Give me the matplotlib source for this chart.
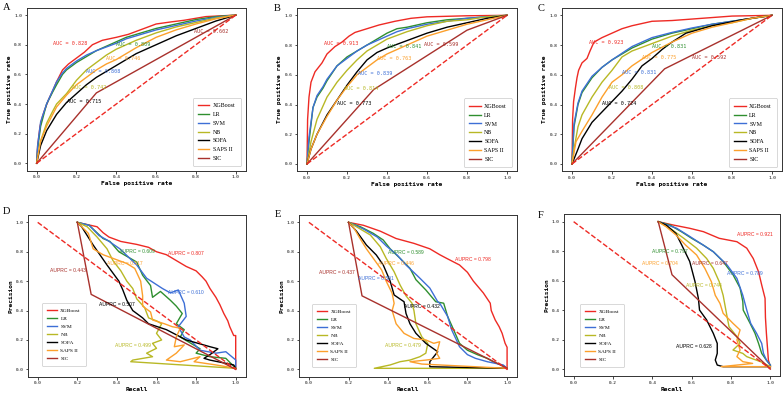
import matplotlib
matplotlib.use("Agg")
import matplotlib.pyplot as plt

models = ["XGBoost", "LR", "SVM", "NB", "SOFA", "SAPS II", "SIC"]
colors = ["#ee2a24", "#2f8f2f", "#3d6fd6", "#b8b825", "#000000", "#fca02c", "#a8312c"]

# ---- ROC curves (fpr, tpr) ----
A_xgb = [(0, 0), (0.005, 0.12), (0.017, 0.25), (0.03, 0.32), (0.04, 0.36), (0.06, 0.43), (0.084, 0.5), (0.1, 0.55),
         (0.13, 0.63), (0.16, 0.67), (0.2, 0.71), (0.24, 0.75), (0.28, 0.8), (0.33, 0.83), (0.4, 0.85), (0.46, 0.87),
         (0.52, 0.9), (0.6, 0.94), (0.68, 0.955), (0.74, 0.965), (0.85, 0.99), (1, 1)]
A_lr = [(0, 0), (0.005, 0.1), (0.02, 0.25), (0.05, 0.4), (0.08, 0.48), (0.1, 0.53), (0.13, 0.6), (0.15, 0.63), (0.2, 0.68),
        (0.25, 0.72), (0.3, 0.76), (0.35, 0.79), (0.4, 0.82), (0.45, 0.85), (0.5, 0.87), (0.6, 0.91), (0.7, 0.94),
        (0.8, 0.97), (0.9, 0.99), (1, 1)]
A_svm = [(0, 0), (0.005, 0.12), (0.02, 0.28), (0.05, 0.4), (0.08, 0.49), (0.1, 0.55), (0.13, 0.61), (0.15, 0.64),
         (0.2, 0.69), (0.25, 0.73), (0.3, 0.76), (0.35, 0.785), (0.4, 0.81), (0.45, 0.84), (0.5, 0.86), (0.6, 0.9),
         (0.7, 0.93), (0.8, 0.96), (0.9, 0.985), (1, 1)]
A_nb = [(0, 0), (0.02, 0.15), (0.05, 0.27), (0.08, 0.35), (0.1, 0.4), (0.15, 0.47), (0.2, 0.56), (0.25, 0.63), (0.3, 0.68),
        (0.35, 0.73), (0.4, 0.77), (0.5, 0.83), (0.6, 0.88), (0.7, 0.92), (0.8, 0.95), (0.9, 0.98), (1, 1)]
A_sofa = [(0, 0), (0.02, 0.12), (0.05, 0.22), (0.1, 0.33), (0.15, 0.41), (0.2, 0.47), (0.25, 0.53), (0.3, 0.58),
          (0.35, 0.62), (0.4, 0.66), (0.5, 0.74), (0.6, 0.8), (0.7, 0.86), (0.8, 0.91), (0.9, 0.96), (1, 1)]
A_saps = [(0, 0), (0.02, 0.15), (0.05, 0.25), (0.1, 0.38), (0.15, 0.46), (0.2, 0.53), (0.25, 0.58), (0.3, 0.63),
          (0.35, 0.67), (0.4, 0.7), (0.5, 0.78), (0.6, 0.85), (0.7, 0.9), (0.8, 0.94), (0.9, 0.975), (1, 1)]
A_sic = [(0, 0), (0.3, 0.475), (1, 1)]
A_auc = [0.828, 0.809, 0.808, 0.742, 0.715, 0.746, 0.602]

B_xgb = [(0, 0), (0.003, 0.3), (0.01, 0.45), (0.02, 0.55), (0.04, 0.62), (0.075, 0.68), (0.1, 0.74), (0.14, 0.79),
         (0.175, 0.82), (0.21, 0.86), (0.24, 0.885), (0.3, 0.91), (0.36, 0.935), (0.44, 0.96), (0.52, 0.98),
         (0.6, 0.99), (0.8, 0.997), (1, 1)]
B_lr = [(0, 0), (0.01, 0.15), (0.03, 0.38), (0.05, 0.45), (0.08, 0.51), (0.1, 0.56), (0.15, 0.66), (0.2, 0.72),
        (0.25, 0.76), (0.3, 0.8), (0.35, 0.84), (0.4, 0.88), (0.45, 0.91), (0.5, 0.92), (0.6, 0.95), (0.7, 0.97),
        (0.8, 0.98), (0.9, 0.99), (1, 1)]
B_svm = [(0, 0), (0.01, 0.18), (0.03, 0.38), (0.05, 0.46), (0.08, 0.52), (0.1, 0.57), (0.15, 0.66), (0.2, 0.71),
         (0.25, 0.76), (0.3, 0.8), (0.35, 0.83), (0.4, 0.86), (0.45, 0.89), (0.5, 0.91), (0.6, 0.94), (0.7, 0.96),
         (0.8, 0.98), (0.9, 0.99), (1, 1)]
B_nb = [(0, 0), (0.02, 0.15), (0.05, 0.3), (0.1, 0.45), (0.15, 0.55), (0.2, 0.63), (0.25, 0.7), (0.3, 0.76), (0.35, 0.8),
        (0.4, 0.84), (0.5, 0.89), (0.6, 0.93), (0.7, 0.96), (0.8, 0.97), (0.9, 0.99), (1, 1)]
B_sofa = [(0, 0), (0.02, 0.1), (0.05, 0.2), (0.1, 0.33), (0.15, 0.43), (0.2, 0.53), (0.25, 0.62), (0.3, 0.7),
          (0.35, 0.75), (0.4, 0.78), (0.5, 0.83), (0.6, 0.88), (0.7, 0.92), (0.8, 0.95), (0.9, 0.98), (1, 1)]
B_saps = [(0, 0), (0.02, 0.1), (0.05, 0.2), (0.1, 0.32), (0.15, 0.43), (0.2, 0.52), (0.25, 0.6), (0.3, 0.65),
          (0.35, 0.7), (0.4, 0.74), (0.5, 0.8), (0.6, 0.86), (0.7, 0.9), (0.8, 0.94), (0.9, 0.97), (1, 1)]
B_sic = [(0, 0), (0.333, 0.5), (0.8, 0.9), (1, 1)]
B_auc = [0.913, 0.841, 0.839, 0.814, 0.773, 0.763, 0.599]

C_xgb = [(0, 0), (0.003, 0.3), (0.008, 0.42), (0.017, 0.51), (0.025, 0.58), (0.033, 0.63), (0.05, 0.68), (0.075, 0.71),
         (0.09, 0.76), (0.11, 0.82), (0.15, 0.85), (0.2, 0.88), (0.25, 0.91), (0.3, 0.93), (0.4, 0.96), (0.5, 0.965),
         (0.6, 0.975), (0.7, 0.985), (0.8, 0.995), (1, 1)]
C_lr = [(0, 0), (0.01, 0.25), (0.03, 0.4), (0.05, 0.48), (0.1, 0.58), (0.15, 0.65), (0.2, 0.7), (0.25, 0.74), (0.3, 0.78),
        (0.4, 0.84), (0.5, 0.88), (0.6, 0.91), (0.7, 0.94), (0.8, 0.96), (0.9, 0.98), (1, 1)]
C_svm = [(0, 0), (0.01, 0.27), (0.03, 0.41), (0.05, 0.49), (0.1, 0.59), (0.15, 0.65), (0.2, 0.7), (0.25, 0.745),
         (0.3, 0.79), (0.4, 0.85), (0.5, 0.885), (0.6, 0.915), (0.7, 0.94), (0.8, 0.96), (0.9, 0.98), (1, 1)]
C_nb = [(0, 0), (0.01, 0.1), (0.03, 0.25), (0.05, 0.33), (0.1, 0.45), (0.15, 0.55), (0.2, 0.63), (0.25, 0.72), (0.3, 0.76),
        (0.4, 0.81), (0.5, 0.86), (0.6, 0.9), (0.7, 0.93), (0.8, 0.95), (0.9, 0.98), (1, 1)]
C_sofa = [(0, 0), (0.03, 0.1), (0.05, 0.17), (0.1, 0.28), (0.15, 0.35), (0.2, 0.42), (0.25, 0.49), (0.3, 0.57),
          (0.35, 0.66), (0.4, 0.71), (0.45, 0.77), (0.5, 0.82), (0.57, 0.88), (0.7, 0.93), (0.85, 0.97), (1, 1)]
C_saps = [(0, 0), (0.02, 0.15), (0.05, 0.22), (0.1, 0.33), (0.15, 0.45), (0.2, 0.55), (0.25, 0.6), (0.3, 0.66),
          (0.4, 0.75), (0.5, 0.82), (0.6, 0.88), (0.7, 0.92), (0.8, 0.95), (0.9, 0.98), (1, 1)]
C_sic = [(0, 0), (0.463, 0.64), (1, 1)]
C_auc = [0.923, 0.831, 0.831, 0.808, 0.724, 0.775, 0.592]

# ---- PR curves (recall, precision) ----
D_xgb = [(0.2, 1.0), (0.3, 0.97), (0.33, 0.93), (0.36, 0.9), (0.42, 0.87), (0.5, 0.85), (0.56, 0.83), (0.6, 0.8),
         (0.65, 0.78), (0.7, 0.74), (0.75, 0.7), (0.8, 0.67), (0.83, 0.63), (0.85, 0.6), (0.87, 0.55), (0.9, 0.49),
         (0.92, 0.44), (0.94, 0.38), (0.96, 0.33), (0.97, 0.29), (0.99, 0.23), (1.0, 0.23), (1.0, 0.0)]
D_lr = [(0.2, 1.0), (0.26, 0.98), (0.33, 0.89), (0.365, 0.87), (0.41, 0.8), (0.5, 0.73), (0.53, 0.64), (0.57, 0.57),
        (0.58, 0.49), (0.62, 0.53), (0.67, 0.47), (0.7, 0.43), (0.73, 0.38), (0.7, 0.31), (0.74, 0.27), (0.72, 0.22),
        (0.77, 0.18), (0.82, 0.14), (0.8, 0.11), (0.87, 0.086), (0.95, 0.075), (1.0, 0.007)]
D_svm = [(0.2, 1.0), (0.26, 0.98), (0.31, 0.91), (0.35, 0.88), (0.415, 0.82), (0.5, 0.71), (0.55, 0.62), (0.63, 0.55),
         (0.67, 0.52), (0.71, 0.54), (0.74, 0.45), (0.75, 0.36), (0.71, 0.29), (0.74, 0.22), (0.77, 0.2), (0.82, 0.13),
         (0.9, 0.11), (0.95, 0.12), (1.0, 0.064), (1.0, 0.007)]
D_nb = [(0.2, 1.0), (0.25, 0.97), (0.3, 0.9), (0.35, 0.82), (0.38, 0.74), (0.42, 0.67), (0.45, 0.6), (0.48, 0.55),
        (0.5, 0.48), (0.54, 0.42), (0.56, 0.35), (0.6, 0.33), (0.626, 0.31), (0.6, 0.245), (0.626, 0.2), (0.58, 0.177),
        (0.6, 0.143), (0.55, 0.11), (0.58, 0.086), (0.48, 0.063), (0.47, 0.052), (1.0, 0.007)]
D_sofa = [(0.2, 1.0), (0.222, 0.97), (0.28, 0.846), (0.35, 0.71), (0.41, 0.6), (0.43, 0.54), (0.45, 0.47), (0.48, 0.4),
          (0.53, 0.35), (0.56, 0.31), (0.65, 0.27), (0.75, 0.2), (0.87, 0.154), (0.91, 0.14), (0.87, 0.1), (0.84, 0.075),
          (0.87, 0.063), (0.99, 0.03), (1.0, 0.007)]
D_saps = [(0.2, 1.0), (0.256, 0.925), (0.28, 0.82), (0.33, 0.78), (0.38, 0.755), (0.45, 0.72), (0.49, 0.687), (0.52, 0.6),
          (0.53, 0.5), (0.53, 0.43), (0.57, 0.39), (0.58, 0.336), (0.64, 0.31), (0.68, 0.29), (0.72, 0.28), (0.7, 0.22),
          (0.69, 0.154), (0.74, 0.166), (0.7, 0.11), (0.65, 0.063), (0.72, 0.052), (0.82, 0.086), (0.79, 0.052),
          (0.9, 0.03), (1.0, 0.007)]
D_sic = [(0.2, 1.0), (0.27, 0.51), (1.0, 0.0)]
D_auprc = [0.807, 0.609, 0.610, 0.499, 0.507, 0.517, 0.443]

E_xgb = [(0.2, 1.0), (0.275, 0.98), (0.36, 0.94), (0.44, 0.89), (0.53, 0.857), (0.61, 0.82), (0.66, 0.78), (0.695, 0.755),
         (0.76, 0.71), (0.8, 0.66), (0.83, 0.6), (0.88, 0.52), (0.915, 0.45), (0.92, 0.4), (0.94, 0.336), (0.96, 0.29),
         (0.975, 0.245), (0.99, 0.177), (1.0, 0.15), (1.0, 0.0)]
E_lr = [(0.2, 1.0), (0.26, 0.97), (0.325, 0.925), (0.375, 0.88), (0.41, 0.82), (0.46, 0.755), (0.51, 0.687), (0.54, 0.61),
        (0.59, 0.54), (0.64, 0.46), (0.68, 0.45), (0.7, 0.36), (0.73, 0.27), (0.76, 0.177), (0.8, 0.13), (0.85, 0.1),
        (0.9, 0.075), (0.93, 0.052), (0.99, 0.018)]
E_svm = [(0.2, 1.0), (0.275, 0.955), (0.345, 0.9), (0.39, 0.84), (0.445, 0.778), (0.49, 0.71), (0.56, 0.62), (0.61, 0.553),
         (0.65, 0.46), (0.66, 0.45), (0.7, 0.36), (0.72, 0.27), (0.76, 0.154), (0.8, 0.1), (0.84, 0.075), (0.9, 0.052),
         (0.98, 0.03), (1.0, 0.007)]
E_nb = [(0.2, 1.0), (0.24, 0.97), (0.31, 0.914), (0.36, 0.834), (0.39, 0.755), (0.43, 0.664), (0.46, 0.574), (0.49, 0.5),
        (0.52, 0.45), (0.53, 0.4), (0.54, 0.31), (0.57, 0.22), (0.6, 0.177), (0.59, 0.11), (0.56, 0.086), (0.51, 0.063),
        (0.46, 0.052), (0.41, 0.03), (0.33, 0.007), (1.0, 0.007)]
E_sofa = [(0.2, 1.0), (0.24, 0.94), (0.29, 0.846), (0.34, 0.778), (0.375, 0.71), (0.41, 0.6), (0.43, 0.506), (0.48, 0.46),
          (0.49, 0.38), (0.51, 0.31), (0.54, 0.245), (0.59, 0.177), (0.65, 0.12), (0.63, 0.086), (0.61, 0.052),
          (0.61, 0.018), (1.0, 0.007)]
E_saps = [(0.2, 1.0), (0.23, 0.955), (0.258, 0.89), (0.29, 0.82), (0.325, 0.755), (0.367, 0.676), (0.39, 0.6),
          (0.42, 0.517), (0.43, 0.449), (0.42, 0.4), (0.44, 0.31), (0.48, 0.245), (0.53, 0.21), (0.59, 0.2),
          (0.63, 0.177), (0.66, 0.188), (0.645, 0.109), (0.66, 0.075), (0.59, 0.063), (0.51, 0.052), (0.57, 0.036),
          (1.0, 0.007)]
E_sic = [(0.2, 1.0), (0.268, 0.5), (1.0, 0.007)]
E_auprc = [0.798, 0.589, 0.591, 0.479, 0.432, 0.446, 0.437]

F_xgb = [(0.43, 1.0), (0.507, 0.977), (0.59, 0.955), (0.66, 0.932), (0.74, 0.887), (0.83, 0.864), (0.88, 0.82),
         (0.913, 0.75), (0.94, 0.66), (0.956, 0.57), (0.973, 0.48), (0.975, 0.35), (0.98, 0.24), (0.99, 0.06),
         (1.0, 0.016)]
F_lr = [(0.43, 1.0), (0.49, 0.977), (0.55, 0.93), (0.6, 0.887), (0.66, 0.84), (0.71, 0.796), (0.76, 0.73), (0.81, 0.64),
        (0.846, 0.55), (0.86, 0.457), (0.862, 0.4), (0.897, 0.31), (0.922, 0.242), (0.94, 0.174), (0.956, 0.106),
        (0.98, 0.06), (1.0, 0.027)]
F_svm = [(0.43, 1.0), (0.524, 0.955), (0.59, 0.9), (0.66, 0.84), (0.71, 0.796), (0.78, 0.706), (0.83, 0.615), (0.86, 0.5),
         (0.88, 0.4), (0.9, 0.31), (0.93, 0.242), (0.956, 0.174), (0.965, 0.106), (0.98, 0.06), (1.0, 0.027)]
F_nb = [(0.43, 1.0), (0.49, 0.955), (0.56, 0.887), (0.625, 0.82), (0.676, 0.75), (0.71, 0.683), (0.74, 0.593),
        (0.76, 0.5), (0.78, 0.355), (0.79, 0.287), (0.83, 0.22), (0.846, 0.174), (0.81, 0.129), (0.86, 0.106),
        (0.88, 0.084), (0.95, 0.05), (1.0, 0.016)]
F_sofa = [(0.43, 1.0), (0.47, 0.977), (0.52, 0.92), (0.55, 0.84), (0.59, 0.73), (0.617, 0.593), (0.634, 0.48), (0.64, 0.4),
          (0.676, 0.333), (0.71, 0.242), (0.73, 0.174), (0.73, 0.106), (0.72, 0.061), (0.73, 0.027), (0.76, 0.016),
          (1.0, 0.016)]
F_saps = [(0.43, 1.0), (0.47, 0.966), (0.52, 0.91), (0.57, 0.84), (0.625, 0.774), (0.667, 0.683), (0.7, 0.593), (0.72, 0.5),
          (0.744, 0.445), (0.76, 0.378), (0.81, 0.31), (0.846, 0.265), (0.83, 0.197), (0.846, 0.129), (0.83, 0.084),
          (0.86, 0.05), (0.91, 0.038), (0.75, 0.016), (1.0, 0.016)]
F_sic = [(0.43, 1.0), (0.5, 0.64), (1.0, 0.0)]
F_auprc = [0.921, 0.797, 0.789, 0.744, 0.628, 0.704, 0.647]

# label anchor points (left edge) per panel, same model order
roc_label_pos = {
    "A": [(0.084, 0.81), (0.40, 0.80), (0.25, 0.62), (0.18, 0.51), (0.15, 0.42), (0.35, 0.71), (0.79, 0.89)],
    "B": [(0.083, 0.81), (0.40, 0.79), (0.255, 0.61), (0.183, 0.51), (0.15, 0.41), (0.35, 0.71), (0.587, 0.805)],
    "C": [(0.083, 0.815), (0.40, 0.79), (0.25, 0.615), (0.183, 0.515), (0.15, 0.41), (0.35, 0.715), (0.60, 0.715)],
}
pr_label_pos = {
    "D": [(0.66, 0.79), (0.41, 0.80), (0.66, 0.52), (0.39, 0.165), (0.31, 0.44), (0.35, 0.72), (0.06, 0.67)],
    "E": [(0.735, 0.745), (0.40, 0.795), (0.25, 0.615), (0.385, 0.16), (0.48, 0.43), (0.35, 0.72), (0.05, 0.66)],
    "F": [(0.83, 0.91), (0.40, 0.80), (0.78, 0.645), (0.57, 0.57), (0.52, 0.15), (0.35, 0.717), (0.60, 0.717)],
}

roc_panels = {
    "A": ([A_xgb, A_lr, A_svm, A_nb, A_sofa, A_saps, A_sic], A_auc),
    "B": ([B_xgb, B_lr, B_svm, B_nb, B_sofa, B_saps, B_sic], B_auc),
    "C": ([C_xgb, C_lr, C_svm, C_nb, C_sofa, C_saps, C_sic], C_auc),
}
pr_panels = {
    "D": ([D_xgb, D_lr, D_svm, D_nb, D_sofa, D_saps, D_sic], D_auprc),
    "E": ([E_xgb, E_lr, E_svm, E_nb, E_sofa, E_saps, E_sic], E_auprc),
    "F": ([F_xgb, F_lr, F_svm, F_nb, F_sofa, F_saps, F_sic], F_auprc),
}

# axes boxes in pixels: left, top, right, bottom
boxes = {
    "A": (26.7, 7.7, 245.7, 170.7), "B": (297, 7.9, 517, 171.4), "C": (562, 7.9, 782, 171.4),
    "D": (27.8, 215, 245.6, 376.7), "E": (299, 215, 517, 376.7), "F": (563.8, 214.3, 780.2, 376.4),
}
letter_pos = {"A": (3, 3), "B": (274, 4), "C": (538, 4), "D": (3, 207), "E": (275, 210), "F": (538, 211)}

W, H = 784, 394
mono = "DejaVu Sans Mono"
fig = plt.figure(figsize=(W / 100, H / 100), dpi=100)


def make_axes(key):
    l, t, r, b = boxes[key]
    ax = fig.add_axes([l / W, 1 - b / H, (r - l) / W, (b - t) / H])
    ax.set_xlim(-0.05, 1.05)
    ax.set_ylim(-0.05, 1.05)
    ax.set_xticks([0, 0.2, 0.4, 0.6, 0.8, 1.0])
    ax.set_yticks([0, 0.2, 0.4, 0.6, 0.8, 1.0])
    ax.tick_params(labelsize=3.2, length=1.8, width=0.5, pad=1.5)
    for lab in ax.get_xticklabels() + ax.get_yticklabels():
        lab.set_family(mono)
    for sp in ax.spines.values():
        sp.set_linewidth(0.7)
        sp.set_color("#333333")
    fig.text(letter_pos[key][0] / W, 1 - letter_pos[key][1] / H, key, family="Liberation Serif",
             fontsize=7.5, va="top", ha="left")
    return ax


for key, (curves, aucs) in roc_panels.items():
    ax = make_axes(key)
    for name, c, pts in zip(models, colors, curves):
        ax.plot([p[0] for p in pts], [p[1] for p in pts], color=c, lw=1.0, label=name)
    ax.plot([0, 1], [0, 1], color="#ee2a24", lw=1.0, ls="--")
    for (x, y), c, v in zip(roc_label_pos[key], colors, aucs):
        ax.text(x, y, f"AUC = {v:.3f}", color=c, fontsize=3.7, family=mono, va="center")
    ax.set_xlabel("False positive rate", family=mono, fontsize=4.5, weight="bold", labelpad=1.5)
    ax.set_ylabel("True positive rate", family=mono, fontsize=4.5, weight="bold", labelpad=1.5)
    leg = ax.legend(loc="lower right", bbox_to_anchor=(0.978, 0.027), borderaxespad=0,
                    prop={"family": "Liberation Serif", "size": 4.3}, labelspacing=0.6,
                    handlelength=1.9, handletextpad=0.6, borderpad=0.9, framealpha=1)
    leg.get_frame().set_linewidth(0.4)
    leg.get_frame().set_edgecolor("#bbbbbb")

pr_leg_anchor = {"D": (0.065, 0.066), "E": (0.06, 0.062), "F": (0.075, 0.06)}
for key, (curves, aucs) in pr_panels.items():
    ax = make_axes(key)
    for name, c, pts in zip(models, colors, curves):
        ax.plot([p[0] for p in pts], [p[1] for p in pts], color=c, lw=1.0, label=name)
    ax.plot([0, 1], [1, 0], color="#ee2a24", lw=1.0, ls="--")
    for (x, y), c, v in zip(pr_label_pos[key], colors, aucs):
        ax.text(x, y, f"AUPRC = {v:.3f}", color=c, fontsize=3.6, family="Liberation Sans", va="center")
    ax.set_xlabel("Recall", family=mono, fontsize=4.5, weight="bold", labelpad=1.5)
    ax.set_ylabel("Precision", family=mono, fontsize=4.5, weight="bold", labelpad=1.5)
    leg = ax.legend(loc="lower left", bbox_to_anchor=pr_leg_anchor[key], borderaxespad=0,
                    prop={"family": "Liberation Serif", "size": 3.9}, labelspacing=0.6,
                    handlelength=1.9, handletextpad=0.6, borderpad=0.9, framealpha=1)
    leg.get_frame().set_linewidth(0.4)
    leg.get_frame().set_edgecolor("#bbbbbb")

fig.savefig("out.png", dpi=100)
